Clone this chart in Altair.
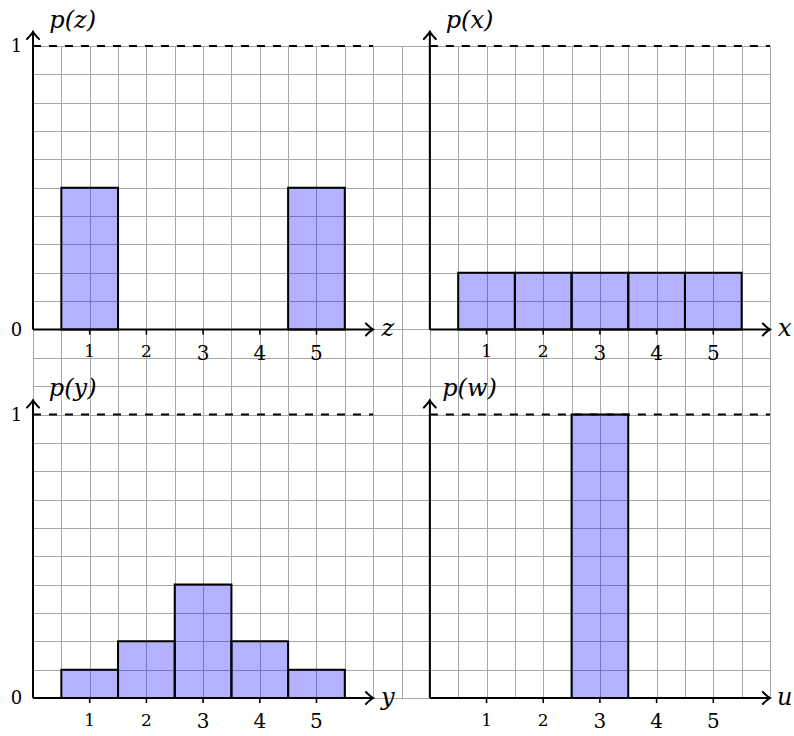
import altair as alt
import pandas as pd

# Outcomes shared by all four distributions
outcomes = [1, 2, 3, 4, 5]

# Probability mass of each distribution
p_z = [0.5, 0.0, 0.0, 0.0, 0.5]
p_x = [0.2, 0.2, 0.2, 0.2, 0.2]
p_y = [0.1, 0.2, 0.4, 0.2, 0.1]
p_w = [0.0, 0.0, 1.0, 0.0, 0.0]

# Texts of each panel (top-left, top-right, bottom-left, bottom-right)
var_names = ["z", "x", "y", "u"]
y_titles = ["p(z)", "p(x)", "p(y)", "p(w)"]
prob_labels = ["0", "1"]

# ---- layout, in centimetres of the drawing (1 cm = 56.69 px) ----
CM = 56.69
origin_x = [0.0, 7.0, 0.0, 7.0]
origin_y = [0.0, 0.0, -6.5, -6.5]
PROB_CM = 5.0          # height of probability 1
X_LEN = 6.0            # length of each horizontal axis
Y_LEN = 5.25           # length of each vertical axis
GRID_X = (0.0, 13.0)
GRID_Y = (-6.5, 5.0)

dists = [p_z, p_x, p_y, p_w]

bars = pd.DataFrame(
    [
        {"panel": i, "k": k, "p": p, "ox": origin_x[i], "oy": origin_y[i]}
        for i, probs in enumerate(dists)
        for k, p in zip(outcomes, probs)
    ]
)
panels = pd.DataFrame(
    {
        "panel": range(4),
        "ox": origin_x,
        "oy": origin_y,
        "var": var_names,
        "title": y_titles,
    }
)
left_panels = panels[panels["ox"] == 0.0]

xs = alt.Scale(domain=list(GRID_X), nice=False, zero=False)
ys = alt.Scale(domain=list(GRID_Y), nice=False, zero=False)

grid_x_axis = alt.Axis(
    values=[GRID_X[0] + 0.5 * i for i in range(int((GRID_X[1] - GRID_X[0]) / 0.5) + 1)],
    grid=True, gridColor="#a8a8a8", gridWidth=1,
    labels=False, ticks=False, domain=False, title=None,
)
grid_y_axis = alt.Axis(
    values=[GRID_Y[0] + 0.5 * i for i in range(int((GRID_Y[1] - GRID_Y[0]) / 0.5) + 1)],
    grid=True, gridColor="#a8a8a8", gridWidth=1,
    labels=False, ticks=False, domain=False, title=None,
)


def X(field):
    return alt.X(f"{field}:Q", scale=xs, axis=grid_x_axis)


def Y(field):
    return alt.Y(f"{field}:Q", scale=ys, axis=grid_y_axis)


# Probability bars, one unit wide around each outcome
bar_layer = (
    alt.Chart(bars)
    .transform_filter("datum.p > 0")
    .transform_calculate(
        x_lo="datum.ox + datum.k - 0.5",
        x_hi="datum.ox + datum.k + 0.5",
        y_lo="datum.oy",
        y_hi=f"datum.oy + {PROB_CM} * datum.p",
    )
    .mark_rect(fill="#0000ff", fillOpacity=0.3, stroke="black", strokeWidth=2)
    .encode(x=X("x_lo"), x2="x_hi", y=Y("y_lo"), y2="y_hi")
)

# Dashed reference line at probability 1
dash_layer = (
    alt.Chart(panels)
    .transform_calculate(
        a="datum.ox", b=f"datum.ox + {X_LEN}", h=f"datum.oy + {PROB_CM}"
    )
    .mark_rule(color="black", strokeWidth=2, strokeDash=[8, 8])
    .encode(x=X("a"), x2="b", y=Y("h"))
)

# Axis lines
x_axis_layer = (
    alt.Chart(panels)
    .transform_calculate(a="datum.ox", b=f"datum.ox + {X_LEN}", h="datum.oy")
    .mark_rule(color="black", strokeWidth=2)
    .encode(x=X("a"), x2="b", y=Y("h"))
)
y_axis_layer = (
    alt.Chart(panels)
    .transform_calculate(a="datum.ox", lo="datum.oy", hi=f"datum.oy + {Y_LEN}")
    .mark_rule(color="black", strokeWidth=2)
    .encode(x=X("a"), y=Y("lo"), y2="hi")
)

# Arrow heads at the axis ends
ARROW = "M -1.2 -1 Q -0.45 -0.25 0 0 Q -0.45 0.25 -1.2 1"
x_tip_layer = (
    alt.Chart(panels)
    .transform_calculate(a=f"datum.ox + {X_LEN}", h="datum.oy")
    .mark_point(shape=ARROW, size=144, filled=False, color="black",
                strokeWidth=2, opacity=1, angle=0, strokeCap="round")
    .encode(x=X("a"), y=Y("h"))
)
y_tip_layer = (
    alt.Chart(panels)
    .transform_calculate(a="datum.ox", h=f"datum.oy + {Y_LEN}")
    .mark_point(shape=ARROW, size=144, filled=False, color="black",
                strokeWidth=2, opacity=1, angle=270, strokeCap="round")
    .encode(x=X("a"), y=Y("h"))
)

# Small ticks under each outcome
tick_layer = (
    alt.Chart(bars)
    .transform_calculate(a="datum.ox + datum.k", lo="datum.oy", hi="datum.oy - 0.09")
    .mark_rule(color="black", strokeWidth=1.6)
    .encode(x=X("a"), y=Y("lo"), y2="hi")
)

# Outcome labels (old-style figures: 1 and 2 small, 3-5 dropping below)
tick_label_layer = (
    alt.Chart(bars)
    .transform_calculate(
        a="datum.ox + datum.k",
        h="datum.oy - (datum.k <= 2 ? 0.494 : 0.53)",
        fs="datum.k <= 2 ? 17 : 20",
        label="'' + datum.k",
    )
    .mark_text(font="DejaVu Serif", baseline="alphabetic", align="center", color="black")
    .encode(x=X("a"), y=Y("h"), text="label:N", size=alt.Size("fs:Q", scale=None, legend=None))
)

# 0 and 1 beside the left-hand vertical axes
prob_rows = pd.DataFrame(
    [
        {"ox": r.ox, "oy": r.oy, "label": lab, "v": float(lab)}
        for r in left_panels.itertuples()
        for lab in prob_labels
    ]
)
prob_label_layer = (
    alt.Chart(prob_rows)
    .transform_calculate(
        a="datum.ox - 0.29",
        h=f"datum.oy + {PROB_CM} * datum.v - 0.11",
        fs="18",
    )
    .mark_text(font="DejaVu Serif", baseline="alphabetic", align="center", color="black")
    .encode(x=X("a"), y=Y("h"), text="label:N", size=alt.Size("fs:Q", scale=None, legend=None))
)

# Variable name at the end of each horizontal axis
var_layer = (
    alt.Chart(panels)
    .transform_calculate(a=f"datum.ox + {X_LEN} + 0.26", h="datum.oy - 0.123")
    .mark_text(font="DejaVu Serif", fontStyle="italic", fontSize=24,
               baseline="alphabetic", align="center", color="black")
    .encode(x=X("a"), y=Y("h"), text="var:N")
)

# p(.) title above each vertical axis
title_layer = (
    alt.Chart(panels)
    .transform_calculate(a="datum.ox + 0.70", h="datum.oy + 5.32")
    .mark_text(font="DejaVu Serif", fontStyle="italic", fontSize=24,
               baseline="alphabetic", align="center", color="black")
    .encode(x=X("a"), y=Y("h"), text="title:N")
)

chart = (
    alt.layer(
        bar_layer,
        dash_layer,
        x_axis_layer,
        y_axis_layer,
        x_tip_layer,
        y_tip_layer,
        tick_layer,
        tick_label_layer,
        prob_label_layer,
        var_layer,
        title_layer,
    )
    .properties(
        width=round((GRID_X[1] - GRID_X[0]) * CM),
        height=round((GRID_Y[1] - GRID_Y[0]) * CM),
        padding={"left": 33, "top": 46, "right": 24, "bottom": 38},
        autosize=alt.AutoSizeParams(type="none"),
        background="white",
    )
    .configure_view(stroke=None)
)

chart.save("out.html", embed_options={"renderer": "svg", "actions": False})
